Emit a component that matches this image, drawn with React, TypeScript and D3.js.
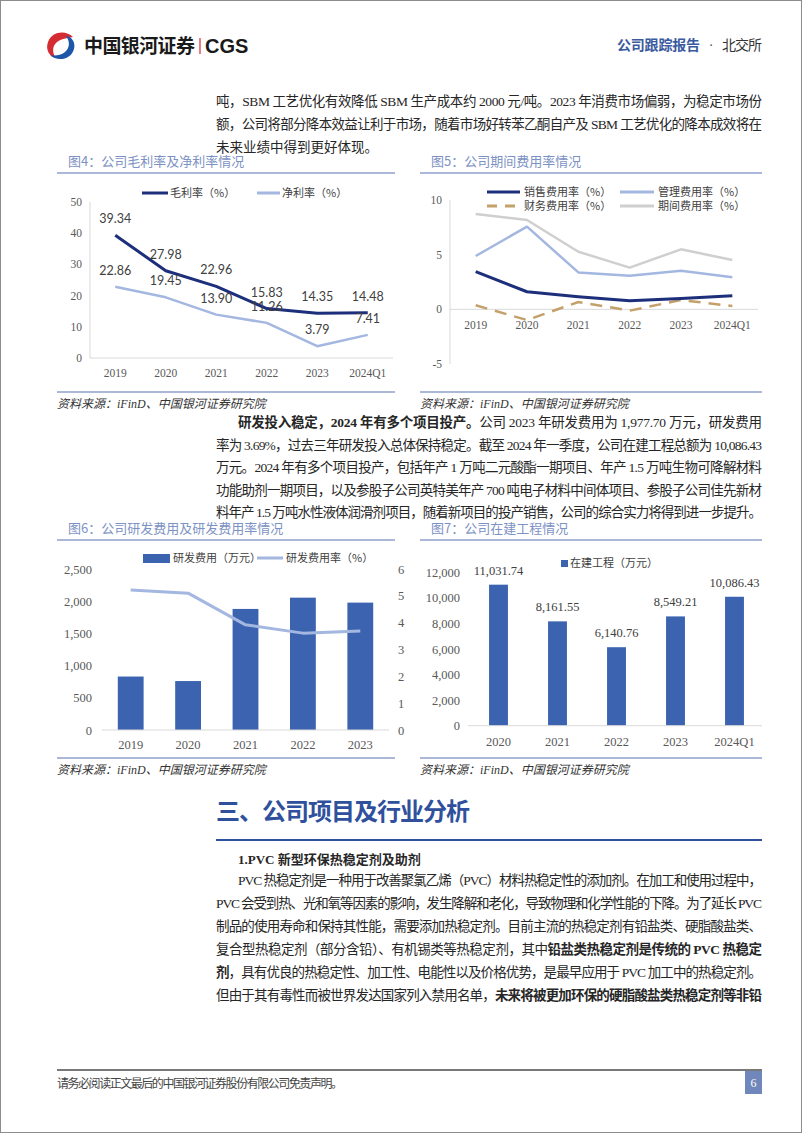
import React from 'react';
import * as d3 from 'd3';

// ---------- data ----------
const years4: string[] = ['2019', '2020', '2021', '2022', '2023', '2024Q1'];
const grossMargin: number[] = [39.34, 27.98, 22.96, 15.83, 14.35, 14.48];
const netMargin: number[] = [22.86, 19.45, 13.9, 11.26, 3.79, 7.41];
const marginTicks: number[] = [0, 10, 20, 30, 40, 50];

const years5: string[] = ['2019', '2020', '2021', '2022', '2023', '2024Q1'];
const sellingRate: number[] = [3.44, 1.61, 1.15, 0.79, 1.0, 1.25];
const adminRate: number[] = [4.88, 7.56, 3.38, 3.08, 3.53, 2.93];
const financeRate: number[] = [0.37, -0.98, 0.67, -0.12, 0.85, 0.3];
const periodRate: number[] = [8.72, 8.17, 5.27, 3.81, 5.49, 4.51];
const expenseTicks: number[] = [-5, 0, 5, 10];

const years6: string[] = ['2019', '2020', '2021', '2022', '2023'];
const rdExpense: number[] = [830, 760, 1880, 2055, 1978];
const rdRate: number[] = [5.22, 5.1, 3.92, 3.61, 3.69];
const rdLeftTicks: number[] = [0, 500, 1000, 1500, 2000, 2500];
const rdRightTicks: number[] = [0, 1, 2, 3, 4, 5, 6];

const years7: string[] = ['2020', '2021', '2022', '2023', '2024Q1'];
const cipValues: number[] = [11031.74, 8161.55, 6140.76, 8549.21, 10086.43];
const cipTicks: number[] = [0, 2000, 4000, 6000, 8000, 10000, 12000];

// ---------- styles ----------
const serif = '"Liberation Serif","Noto Sans CJK SC",serif';
const cjk = '"Noto Sans CJK SC","Liberation Sans",sans-serif';
const labelSans = 'Lato,"Liberation Sans",sans-serif';
const NAVY = '#1d2f7b';
const LIGHT = '#a3b7e0';
const TAN = '#c4a06a';
const GREY = '#cfcfcf';
const BAR = '#3b63b0';
const AXIS = '#d9d9d9';
const TICK = '#595959';
const TITLE = '#7d92c4';
const TITLE_LINE = '#8fa1cc';
const BODY = '#262626';

const fmtComma = d3.format(',');
const fmt2 = d3.format(',.2f');

function ChartTitle({ x1, x2, y, text }: { x1: number; x2: number; y: number; text: string }) {
  return (
    <g>
      <text x={x1 + 11} y={y + 5} fontFamily={cjk} fontSize={13} fill={TITLE}>{text}</text>
      <line x1={x1} x2={x2} y1={y + 12} y2={y + 12} stroke={TITLE_LINE} strokeWidth={1.5} />
    </g>
  );
}

function Source({ x1, x2, y }: { x1: number; x2: number; y: number }) {
  return (
    <g>
      <line x1={x1} x2={x2} y1={y} y2={y} stroke={TITLE_LINE} strokeWidth={1.5} />
      <text x={x1} y={y + 16} fontFamily={serif} fontStyle="italic" fontSize={12} fill="#333">资料来源：iFinD、中国银河证券研究院</text>
    </g>
  );
}

function Chart4() {
  const x = d3.scalePoint<string>().domain(years4).range([90, 393]).padding(0.5);
  const y = d3.scaleLinear().domain([0, 50]).range([358, 202]);
  const line = d3.line<number>().x((_, i) => x(years4[i]) as number).y((d) => y(d));
  return (
    <g>
      <ChartTitle x1={57} x2={395} y={161} text="图4：公司毛利率及净利率情况" />
      <line x1={90} x2={90} y1={202} y2={358} stroke={AXIS} />
      <line x1={90} x2={393} y1={358} y2={358} stroke={AXIS} />
      {marginTicks.map((t) => (
        <text key={t} x={82} y={y(t) + 4} textAnchor="end" fontFamily={serif} fontSize={11.5} fill={TICK}>{t}</text>
      ))}
      {years4.map((c) => (
        <text key={c} x={x(c)} y={377} textAnchor="middle" fontFamily={serif} fontSize={11.5} fill={TICK}>{c}</text>
      ))}
      <path d={line(netMargin) || ''} fill="none" stroke={LIGHT} strokeWidth={2.5} strokeLinejoin="round" />
      <path d={line(grossMargin) || ''} fill="none" stroke={NAVY} strokeWidth={3} strokeLinejoin="round" />
      {grossMargin.map((v, i) => (
        <text key={'g' + i} x={x(years4[i])} y={y(v) - 12} textAnchor="middle" fontFamily={labelSans} fontSize={12.5} fill="#404040">{v.toFixed(2)}</text>
      ))}
      {netMargin.map((v, i) => (
        <text key={'n' + i} x={x(years4[i])} y={y(v) - 12} textAnchor="middle" fontFamily={labelSans} fontSize={12.5} fill="#404040">{v.toFixed(2)}</text>
      ))}
      {/* legend */}
      <line x1={142} x2={168} y1={193} y2={193} stroke={NAVY} strokeWidth={3} />
      <text x={170} y={197} fontFamily={cjk} fontSize={11} fill="#404040">毛利率（%）</text>
      <line x1={257} x2={280} y1={193} y2={193} stroke={LIGHT} strokeWidth={3} />
      <text x={282} y={197} fontFamily={cjk} fontSize={11} fill="#404040">净利率（%）</text>
      <Source x1={57} x2={395} y={392} />
    </g>
  );
}

function Chart5() {
  const x = d3.scalePoint<string>().domain(years5).range([450, 758]).padding(0.5);
  const y = d3.scaleLinear().domain([-5, 10]).range([364, 200]);
  const line = d3.line<number>().x((_, i) => x(years5[i]) as number).y((d) => y(d));
  return (
    <g>
      <ChartTitle x1={420} x2={762} y={161} text="图5：公司期间费用率情况" />
      <line x1={450} x2={450} y1={200} y2={364} stroke={AXIS} />
      <line x1={450} x2={758} y1={y(0)} y2={y(0)} stroke={AXIS} />
      {expenseTicks.map((t) => (
        <text key={t} x={442} y={y(t) + 4} textAnchor="end" fontFamily={serif} fontSize={11.5} fill={TICK}>{t}</text>
      ))}
      {years5.map((c) => (
        <text key={c} x={x(c)} y={329} textAnchor="middle" fontFamily={serif} fontSize={11.5} fill={TICK}>{c}</text>
      ))}
      <path d={line(periodRate) || ''} fill="none" stroke={GREY} strokeWidth={2.5} strokeLinejoin="round" />
      <path d={line(adminRate) || ''} fill="none" stroke={LIGHT} strokeWidth={2.5} strokeLinejoin="round" />
      <path d={line(financeRate) || ''} fill="none" stroke={TAN} strokeWidth={2.5} strokeDasharray="12,8" />
      <path d={line(sellingRate) || ''} fill="none" stroke={NAVY} strokeWidth={3} strokeLinejoin="round" />
      {/* legend */}
      <line x1={487} x2={520} y1={192} y2={192} stroke={NAVY} strokeWidth={3} />
      <text x={524} y={196} fontFamily={cjk} fontSize={11} fill="#404040">销售费用率（%）</text>
      <line x1={620} x2={654} y1={192} y2={192} stroke={LIGHT} strokeWidth={3} />
      <text x={658} y={196} fontFamily={cjk} fontSize={11} fill="#404040">管理费用率（%）</text>
      <line x1={487} x2={520} y1={206} y2={206} stroke={TAN} strokeWidth={3} strokeDasharray="10,8" />
      <text x={524} y={210} fontFamily={cjk} fontSize={11} fill="#404040">财务费用率（%）</text>
      <line x1={620} x2={654} y1={206} y2={206} stroke={GREY} strokeWidth={3} />
      <text x={658} y={210} fontFamily={cjk} fontSize={11} fill="#404040">期间费用率（%）</text>
      <Source x1={420} x2={762} y={392} />
    </g>
  );
}

function Chart6() {
  const x = d3.scaleBand<string>().domain(years6).range([102, 389]).paddingInner(0.55).paddingOuter(0.275);
  const yL = d3.scaleLinear().domain([0, 2500]).range([730, 569]);
  const yR = d3.scaleLinear().domain([0, 6]).range([730, 569]);
  const line = d3.line<number>().x((_, i) => (x(years6[i]) as number) + x.bandwidth() / 2).y((d) => yR(d));
  return (
    <g>
      <ChartTitle x1={57} x2={395} y={528} text="图6：公司研发费用及研发费用率情况" />
      {years6.map((c, i) => (
        <rect key={c} x={x(c)} y={yL(rdExpense[i])} width={x.bandwidth()} height={730 - yL(rdExpense[i])} fill={BAR} />
      ))}
      <line x1={102} x2={389} y1={730} y2={730} stroke={AXIS} />
      {rdLeftTicks.map((t) => (
        <text key={t} x={92} y={yL(t) + 4.5} textAnchor="end" fontFamily={serif} fontSize={12.5} fill={TICK}>{fmtComma(t)}</text>
      ))}
      {rdRightTicks.map((t) => (
        <text key={t} x={398} y={yR(t) + 4.5} textAnchor="start" fontFamily={serif} fontSize={12.5} fill={TICK}>{t}</text>
      ))}
      {years6.map((c) => (
        <text key={c} x={(x(c) as number) + x.bandwidth() / 2} y={749} textAnchor="middle" fontFamily={serif} fontSize={12.5} fill={TICK}>{c}</text>
      ))}
      <path d={line(rdRate) || ''} fill="none" stroke={LIGHT} strokeWidth={3} strokeLinejoin="round" />
      {/* legend */}
      <rect x={143} y={554} width={27} height={9} fill={BAR} />
      <text x={173} y={562} fontFamily={cjk} fontSize={11} fill="#404040">研发费用（万元）</text>
      <line x1={257} x2={283} y1={558} y2={558} stroke={LIGHT} strokeWidth={3} />
      <text x={286} y={562} fontFamily={cjk} fontSize={11} fill="#404040">研发费用率（%）</text>
      <Source x1={57} x2={395} y={758} />
    </g>
  );
}

function Chart7() {
  const x = d3.scaleBand<string>().domain(years7).range([469, 764]).paddingInner(0.68).paddingOuter(0.34);
  const y = d3.scaleLinear().domain([0, 12000]).range([725.7, 572.3]);
  return (
    <g>
      <ChartTitle x1={420} x2={762} y={528} text="图7：公司在建工程情况" />
      {years7.map((c, i) => (
        <rect key={c} x={x(c)} y={y(cipValues[i])} width={x.bandwidth()} height={725.7 - y(cipValues[i])} fill={BAR} />
      ))}
      <line x1={468} x2={762} y1={725.7} y2={725.7} stroke={AXIS} />
      {cipTicks.map((t) => (
        <text key={t} x={460} y={y(t) + 4.5} textAnchor="end" fontFamily={serif} fontSize={12.5} fill={TICK}>{fmtComma(t)}</text>
      ))}
      {years7.map((c) => (
        <text key={c} x={(x(c) as number) + x.bandwidth() / 2} y={746} textAnchor="middle" fontFamily={serif} fontSize={12.5} fill={TICK}>{c}</text>
      ))}
      {years7.map((c, i) => (
        <text key={'l' + c} x={(x(c) as number) + x.bandwidth() / 2} y={y(cipValues[i]) - 10} textAnchor="middle" fontFamily={serif} fontSize={12.5} fill="#404040">{fmt2(cipValues[i])}</text>
      ))}
      {/* legend */}
      <rect x={561} y={560} width={7} height={7} fill={BAR} />
      <text x={570} y={567} fontFamily={cjk} fontSize={11} fill="#404040">在建工程（万元）</text>
      <Source x1={420} x2={762} y={758} />
    </g>
  );
}

type Seg = { t: string; b?: boolean };
function TextLine({ x, y, len, segs }: { x: number; y: number; len?: number; segs: Seg[] }) {
  return (
    <text x={x} y={y} fontFamily={serif} fontSize={13.5} fill={BODY} textLength={len} lengthAdjust={len ? 'spacing' : undefined}>
      {segs.map((s, i) => (
        <tspan key={i} fontWeight={s.b ? 700 : 400}>{s.t}</tspan>
      ))}
    </text>
  );
}

export default function App() {
  return (
    <svg width={802} height={1133} style={{ position: 'absolute', left: 0, top: 0, background: '#fff' }}>
      <rect x={0} y={0} width={802} height={1133} fill="#fff" />
      <rect x={0.5} y={0.5} width={801} height={1132} fill="none" stroke="#8c8c8c" />
      {/* header logo */}
      <path d="M 73 37 C 66 30 52 31 48 42 C 45 50 50 57 56 58 C 52 53 52 46 57 42 C 62 38 69 38 73 37 Z" fill="#d52b32" />
      <path d="M 50 55 C 57 62 71 60 74 49 C 76 42 71 36 66 36 C 70 41 70 48 65 52 C 60 56 54 56 50 55 Z" fill="#1e57a8" />
      <text x={84} y={53} fontFamily={cjk} fontWeight={700} fontSize={19} fill="#1a1a1a" textLength={111}>中国银河证券</text>
      <line x1={200} x2={200} y1={38} y2={54} stroke="#d52b32" strokeWidth={1.2} />
      <text x={205} y={53} fontFamily='"Liberation Sans",sans-serif' fontWeight={700} fontSize={20} fill="#1a1a1a">CGS</text>
      <text x={617} y={50} fontFamily={cjk} fontWeight={700} fontSize={14} fill="#3a5aa0" textLength={83}>公司跟踪报告</text>
      <text x={711} y={50} textAnchor="middle" fontFamily={serif} fontSize={14} fill="#555">·</text>
      <text x={722} y={50} fontFamily={cjk} fontSize={14} fill="#333" textLength={40}>北交所</text>

      {/* intro paragraph */}
      <TextLine x={216} y={106} len={546} segs={[{ t: '吨，SBM 工艺优化有效降低 SBM 生产成本约 2000 元/吨。2023 年消费市场偏弱，为稳定市场份' }]} />
      <TextLine x={216} y={129} len={546} segs={[{ t: '额，公司将部分降本效益让利于市场，随着市场好转苯乙酮自产及 SBM 工艺优化的降本成效将在' }]} />
      <TextLine x={216} y={152} segs={[{ t: '未来业绩中得到更好体现。' }]} />

      <Chart4 />
      <Chart5 />

      {/* R&D paragraph */}
      <TextLine x={238} y={427} len={524} segs={[{ t: '研发投入稳定，2024 年有多个项目投产。', b: true }, { t: '公司 2023 年研发费用为 1,977.70 万元，研发费用' }]} />
      <TextLine x={216} y={449.5} len={546} segs={[{ t: '率为 3.69%，过去三年研发投入总体保持稳定。截至 2024 年一季度，公司在建工程总额为 10,086.43' }]} />
      <TextLine x={216} y={472} len={546} segs={[{ t: '万元。2024 年有多个项目投产，包括年产 1 万吨二元酸酯一期项目、年产 1.5 万吨生物可降解材料' }]} />
      <TextLine x={216} y={494.5} len={546} segs={[{ t: '功能助剂一期项目，以及参股子公司英特美年产 700 吨电子材料中间体项目、参股子公司佳先新材' }]} />
      <TextLine x={216} y={517} len={546} segs={[{ t: '料年产 1.5 万吨水性液体润滑剂项目，随着新项目的投产销售，公司的综合实力将得到进一步提升。' }]} />

      <Chart6 />
      <Chart7 />

      {/* section heading */}
      <text x={216} y={820} fontFamily={cjk} fontWeight={700} fontSize={24} fill="#2f509c" textLength={254}>三、公司项目及行业分析</text>
      <line x1={216} x2={762} y1={840} y2={840} stroke="#2f509c" strokeWidth={2} />
      <text x={238} y={864} fontFamily={serif} fontWeight={700} fontSize={13} fill={BODY}>1.PVC 新型环保热稳定剂及助剂</text>
      <TextLine x={238} y={885} len={524} segs={[{ t: 'PVC 热稳定剂是一种用于改善聚氯乙烯（PVC）材料热稳定性的添加剂。在加工和使用过程中，' }]} />
      <TextLine x={216} y={908} len={546} segs={[{ t: 'PVC 会受到热、光和氧等因素的影响，发生降解和老化，导致物理和化学性能的下降。为了延长 PVC' }]} />
      <TextLine x={216} y={931} len={546} segs={[{ t: '制品的使用寿命和保持其性能，需要添加热稳定剂。目前主流的热稳定剂有铅盐类、硬脂酸盐类、' }]} />
      <TextLine x={216} y={954} len={546} segs={[{ t: '复合型热稳定剂（部分含铅）、有机锡类等热稳定剂，其中' }, { t: '铅盐类热稳定剂是传统的 PVC 热稳定', b: true }]} />
      <TextLine x={216} y={977} len={546} segs={[{ t: '剂', b: true }, { t: '，具有优良的热稳定性、加工性、电能性以及价格优势，是最早应用于 PVC 加工中的热稳定剂。' }]} />
      <TextLine x={216} y={1000} len={546} segs={[{ t: '但由于其有毒性而被世界发达国家列入禁用名单，' }, { t: '未来将被更加环保的硬脂酸盐类热稳定剂等非铅', b: true }]} />

      {/* footer */}
      <line x1={57} x2={762} y1={1070} y2={1070} stroke="#4d4d4d" strokeWidth={1.5} />
      <text x={57} y={1088} fontFamily={cjk} fontSize={12} fill="#444" textLength={286}>请务必阅读正文最后的中国银河证券股份有限公司免责声明。</text>
      <rect x={745} y={1071} width={17} height={23} fill="#6f87ba" />
      <text x={753.5} y={1087} textAnchor="middle" fontFamily={serif} fontSize={12} fill="#fff">6</text>
    </svg>
  );
}
